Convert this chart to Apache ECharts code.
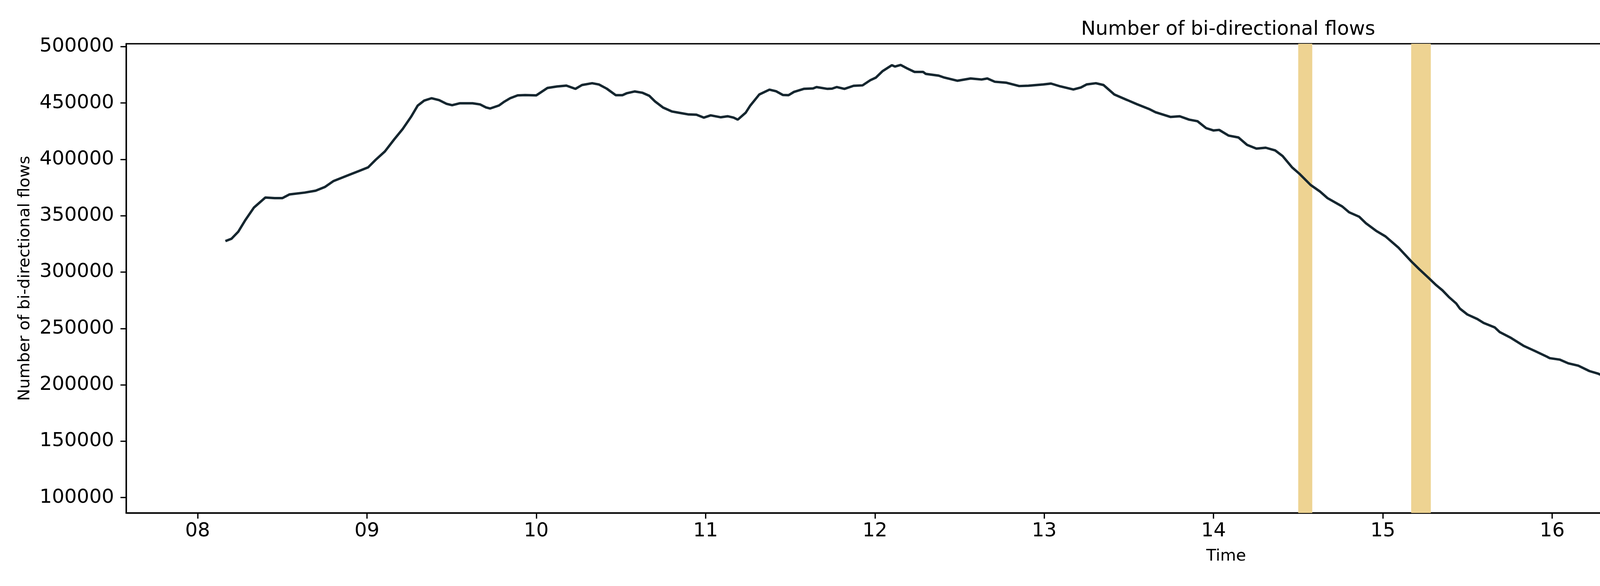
<!DOCTYPE html>
<html>
<head>
<meta charset="utf-8">
<script src="https://cdn.jsdelivr.net/npm/echarts@6.0.0/dist/echarts.min.js"></script>
<style>
html,body{margin:0;padding:0;background:#fff;}
#chart{width:6000px;height:1500px;}
</style>
</head>
<body>
<div id="chart"></div>
<script>
// time in decimal hours
const times = [
8.164,8.20,8.24,8.28,8.333,8.40,8.455,8.50,8.543,8.632,8.697,8.753,8.803,8.896,8.952,
9.007,9.051,9.106,9.161,9.211,9.26,9.30,9.338,9.382,9.426,9.47,9.503,9.547,9.624,9.668,
9.703,9.728,9.779,9.812,9.846,9.89,9.934,10.0,10.066,10.122,10.178,10.231,10.27,10.33,10.37,
10.416,10.469,10.509,10.536,10.582,10.628,10.667,10.701,10.748,10.80,10.84,10.90,10.946,10.99,11.03,
11.09,11.13,11.165,11.19,11.237,11.264,11.317,11.377,11.416,11.456,11.49,11.522,11.58,11.635,11.655,
11.72,11.747,11.774,11.82,11.874,11.927,11.973,12.006,12.046,12.10,12.119,12.152,12.19,12.234,12.285,
12.30,12.377,12.41,12.488,12.565,12.63,12.664,12.708,12.774,12.852,12.907,12.995,13.04,13.095,13.172,
13.216,13.25,13.305,13.35,13.414,13.49,13.547,13.624,13.657,13.745,13.80,13.856,13.905,13.956,14.0,
14.033,14.088,14.147,14.198,14.253,14.308,14.364,14.408,14.463,14.507,14.573,14.629,14.673,14.76,14.80,
14.86,14.90,14.96,15.015,15.092,15.169,15.214,15.271,15.315,15.352,15.389,15.433,15.455,15.499,15.558,
15.595,15.661,15.69,15.757,15.83,15.897,15.97,15.985,16.044,16.095,16.154,16.22,16.272,16.316,16.375,
16.434,16.478,16.537,16.595,16.64,16.684,16.757,16.831,16.868,16.92,16.978,17.037,17.125,17.228,17.28,
17.317,17.39,17.434,17.50,17.567,17.655,17.73,17.80,17.877,17.90,17.999,18.077,18.165,18.23,18.308,
18.363,18.43,18.518,18.63,18.716,18.80,18.87,18.948,19.047,19.136,19.19,19.29,19.345,19.423,19.50,
19.577,19.643,19.687,19.765,19.842,19.908,19.986
];
const flows = [
327500,329600,335800,345700,357300,366100,365600,365600,368900,370500,372200,375600,380800,386300,389600,
392900,399500,407000,417700,426900,437600,447700,452100,454200,452500,449200,448000,449700,449700,448700,
446000,445100,447700,451200,454200,456700,457000,456700,463300,464600,465400,462500,465900,467500,466400,
462700,456900,456900,458700,460200,459000,456400,451400,446000,442500,441400,439800,439600,437000,439000,
437300,438200,437000,435200,441400,447700,457500,461800,460400,457100,456900,459800,462500,462900,464100,
462500,462700,464100,462500,465200,465600,470200,472500,478300,483500,482300,483700,480700,477500,477500,
475800,474200,472500,469700,471700,470800,471700,468800,468000,465000,465300,466400,467200,464700,462000,
463700,466400,467500,465900,457500,452600,448900,444300,441800,437600,438200,435200,433800,427700,425600,
426100,421100,419400,412800,409500,410300,407900,402900,393000,387200,377300,371400,365600,358200,353100,
349100,343300,336600,331700,321700,309300,302700,294700,288400,283800,278000,272200,267600,262400,258400,
254900,250900,246800,241600,234700,230100,224900,223700,222400,219100,217000,212200,209900,207000,202400,
198300,196000,194300,192000,189100,184500,179900,177000,177000,174700,171800,170100,167800,161400,158100,
156300,153700,152000,150600,147600,144000,141200,140400,139800,140400,137400,135400,134400,132400,129900,
127400,125400,124400,122200,120400,120800,122000,119500,117100,117100,115800,115500,115800,113800,111200,
110000,109500,107900,106600,106700,107300,105100
];
// highlighted intervals (decimal hours)
const bandStarts = [14.50, 15.167];
const bandEnds = [14.583, 15.283];
const xTicks = [8,9,10,11,12,13,14,15,16,17,18,19,20];
const yTicks = [100000,150000,200000,250000,300000,350000,400000,450000,500000];

const FONT = 'DejaVu Sans';
const chart = echarts.init(document.getElementById('chart'), null, {renderer:'canvas'});
const seriesData = times.map((t,i)=>[t, flows[i]]);
const bands = bandStarts.map((s,i)=>[{xAxis:s},{xAxis:bandEnds[i]}]);

chart.setOption({
  animation:false,
  backgroundColor:'#ffffff',
  title:{
    text:'Number of bi-directional flows',
    left:3139, top:46, textAlign:'center',
    textStyle:{fontFamily:FONT,fontSize:50,fontWeight:'normal',color:'#000'}
  },
  grid:{left:323,right:45,top:112,bottom:187,show:true,borderColor:'#000',borderWidth:3.3,backgroundColor:'transparent'},
  xAxis:{
    type:'value', min:7.578, max:20.571,
    name:'Time', nameLocation:'middle', nameGap:90,
    nameTextStyle:{fontFamily:FONT,fontSize:41.67,color:'#000'},
    axisLine:{show:true,onZero:false,lineStyle:{color:'#000',width:3.3}},
    axisTick:{show:true,customValues:xTicks,length:14.6,lineStyle:{color:'#000',width:3.3}},
    axisLabel:{customValues:xTicks,margin:22,fontFamily:FONT,fontSize:50,color:'#000',
      formatter:v=>String(Math.round(v)).padStart(2,'0')},
    splitLine:{show:false}
  },
  yAxis:{
    type:'value', min:86400, max:502500,
    name:'Number of bi-directional flows', nameLocation:'middle', nameGap:238,
    nameTextStyle:{fontFamily:FONT,fontSize:41.67,color:'#000'},
    axisLine:{show:true,onZero:false,lineStyle:{color:'#000',width:3.3}},
    axisTick:{show:true,customValues:yTicks,length:14.6,lineStyle:{color:'#000',width:3.3}},
    axisLabel:{customValues:yTicks,margin:31,fontFamily:FONT,fontSize:50,color:'#000',
      formatter:v=>String(v)},
    splitLine:{show:false}
  },
  series:[
    {
      type:'line', data:[], z:1, silent:true,
      markArea:{silent:true,itemStyle:{color:'#EED392',opacity:1},data:bands}
    },
    {
      type:'line', data:seriesData, z:3, showSymbol:false, symbol:'none',
      lineStyle:{color:'#15262f',width:6.2}
    }
  ]
});
</script>
</body>
</html>
